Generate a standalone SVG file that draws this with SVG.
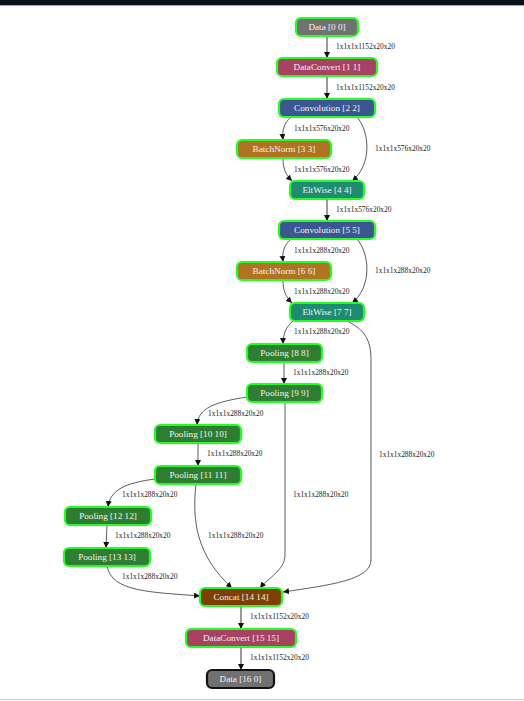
<svg xmlns="http://www.w3.org/2000/svg" width="524" height="701" viewBox="0 0 524 701">
<style>
.n rect{stroke:#22ff22;stroke-width:2.2}
.n text{font-family:"Liberation Serif",serif;font-size:9.2px;fill:#f2f2f2;text-anchor:middle}
.e path{fill:none}
.thin{stroke:#333;stroke-width:0.8}
.thick{stroke:#9a9a9a;stroke-width:2}
.lbl{font-family:"Liberation Serif",serif;font-size:7.4px;fill:#222}
.data{fill:#717171}.dc{fill:#a84263}.conv{fill:#3b5691}.bn{fill:#b07322}.elt{fill:#1f8b70}.pool{fill:#2f7d32}.cat{fill:#7e3f00}
</style>
<defs>
<marker id="ah" viewBox="0 0 6 6" refX="6" refY="3" markerWidth="6" markerHeight="6" markerUnits="userSpaceOnUse" orient="auto">
<path d="M0,0 L6,3 L0,6 z" fill="#111"/>
</marker>
</defs>
<rect x="0" y="0" width="524" height="701" fill="#fff"/>
<rect x="0" y="0" width="524" height="5" fill="#0b121b"/>
<line x1="0" y1="5.5" x2="524" y2="5.5" stroke="#aaa" stroke-width="1"/>
<line x1="0" y1="699.5" x2="524" y2="699.5" stroke="#ccc" stroke-width="1"/>

<g id="connectors" class="e">
<path class="thick" d="M327,36 L327,58" marker-end="url(#ah)"/>
<path class="thick" d="M327,76 L327,99" marker-end="url(#ah)"/>
<path class="thin" d="M291,117 C284,123 282,130 283,140" marker-end="url(#ah)"/>
<path class="thin" d="M357,117 C370,132 372,165 352,181" marker-end="url(#ah)"/>
<path class="thin" d="M283,158 C283,168 285,174 292,181" marker-end="url(#ah)"/>
<path class="thick" d="M327,199 L327,221" marker-end="url(#ah)"/>
<path class="thin" d="M291,239 C284,245 282,252 283,262" marker-end="url(#ah)"/>
<path class="thin" d="M357,239 C370,254 372,287 352,303" marker-end="url(#ah)"/>
<path class="thin" d="M283,280 C283,290 285,296 292,303" marker-end="url(#ah)"/>
<path class="thin" d="M293,321 C286,327 283,334 283,344" marker-end="url(#ah)"/>
<path class="thin" d="M347,321 C365,330 371,340 371,360 L371,560 C371,580 330,585 283,592" marker-end="url(#ah)"/>
<path class="thin" d="M284,362 L284,384" marker-end="url(#ah)"/>
<path class="thin" d="M247,397 C215,402 198,408 197,425" marker-end="url(#ah)"/>
<path class="thin" d="M285,402 L285,555 C285,570 268,578 260,588" marker-end="url(#ah)"/>
<path class="thin" d="M198,443 L198,466" marker-end="url(#ah)"/>
<path class="thin" d="M155,479 C125,483 110,490 108,507" marker-end="url(#ah)"/>
<path class="thin" d="M196,484 C192,520 196,555 232,588" marker-end="url(#ah)"/>
<path class="thin" d="M107,525 L106,548" marker-end="url(#ah)"/>
<path class="thin" d="M107,566 C112,592 150,592 200,596" marker-end="url(#ah)"/>
<path class="thick" d="M241,606 L241,629" marker-end="url(#ah)"/>
<path class="thick" d="M241,647 L241,670" marker-end="url(#ah)"/>
<text class="lbl" x="336" y="48.5">1x1x1x1152x20x20</text>
<text class="lbl" x="336" y="89.5">1x1x1x1152x20x20</text>
<text class="lbl" x="294" y="130.5">1x1x1x576x20x20</text>
<text class="lbl" x="375" y="150.5">1x1x1x576x20x20</text>
<text class="lbl" x="294" y="171.5">1x1x1x576x20x20</text>
<text class="lbl" x="336" y="212">1x1x1x576x20x20</text>
<text class="lbl" x="294" y="252.5">1x1x1x288x20x20</text>
<text class="lbl" x="375" y="272.5">1x1x1x288x20x20</text>
<text class="lbl" x="294" y="293.5">1x1x1x288x20x20</text>
<text class="lbl" x="294" y="333.5">1x1x1x288x20x20</text>
<text class="lbl" x="293" y="374.5">1x1x1x288x20x20</text>
<text class="lbl" x="208" y="415.5">1x1x1x288x20x20</text>
<text class="lbl" x="207" y="456">1x1x1x288x20x20</text>
<text class="lbl" x="379" y="456.5">1x1x1x288x20x20</text>
<text class="lbl" x="122" y="496.5">1x1x1x288x20x20</text>
<text class="lbl" x="293" y="496.5">1x1x1x288x20x20</text>
<text class="lbl" x="115" y="537.5">1x1x1x288x20x20</text>
<text class="lbl" x="208" y="537.5">1x1x1x288x20x20</text>
<text class="lbl" x="122" y="578.5">1x1x1x288x20x20</text>
<text class="lbl" x="250" y="618.5">1x1x1x1152x20x20</text>
<text class="lbl" x="250" y="659.5">1x1x1x1152x20x20</text>
</g>

<g id="n0" class="n"><rect class="data" x="296" y="18" width="62" height="18" rx="5"/><text x="327" y="30.2">Data [0 0]</text></g>
<g id="n1" class="n"><rect class="dc" x="277" y="58" width="100" height="18" rx="5"/><text x="327" y="70.2">DataConvert [1 1]</text></g>
<g id="n2" class="n"><rect class="conv" x="279" y="99" width="96" height="18" rx="5"/><text x="327" y="111.2">Convolution [2 2]</text></g>
<g id="n3" class="n"><rect class="bn" x="237" y="140" width="94" height="18" rx="5"/><text x="284" y="152.2">BatchNorm [3 3]</text></g>
<g id="n4" class="n"><rect class="elt" x="290" y="181" width="74" height="18" rx="5"/><text x="327" y="193.2">EltWise [4 4]</text></g>
<g id="n5" class="n"><rect class="conv" x="279" y="221" width="96" height="18" rx="5"/><text x="327" y="233.2">Convolution [5 5]</text></g>
<g id="n6" class="n"><rect class="bn" x="237" y="262" width="94" height="18" rx="5"/><text x="284" y="274.2">BatchNorm [6 6]</text></g>
<g id="n7" class="n"><rect class="elt" x="290" y="303" width="74" height="18" rx="5"/><text x="327" y="315.2">EltWise [7 7]</text></g>
<g id="n8" class="n"><rect class="pool" x="247" y="344" width="75" height="18" rx="5"/><text x="284.5" y="356.2">Pooling [8 8]</text></g>
<g id="n9" class="n"><rect class="pool" x="247" y="384" width="75" height="18" rx="5"/><text x="284.5" y="396.2">Pooling [9 9]</text></g>
<g id="n10" class="n"><rect class="pool" x="155" y="425" width="86" height="18" rx="5"/><text x="198" y="437.2">Pooling [10 10]</text></g>
<g id="n11" class="n"><rect class="pool" x="155" y="466" width="86" height="18" rx="5"/><text x="198" y="478.2">Pooling [11 11]</text></g>
<g id="n12" class="n"><rect class="pool" x="65" y="507" width="86" height="18" rx="5"/><text x="108" y="519.2">Pooling [12 12]</text></g>
<g id="n13" class="n"><rect class="pool" x="64" y="548" width="86" height="18" rx="5"/><text x="107" y="560.2">Pooling [13 13]</text></g>
<g id="n14" class="n"><rect class="cat" x="200" y="588" width="82" height="18" rx="5"/><text x="241" y="600.2">Concat [14 14]</text></g>
<g id="n15" class="n"><rect class="dc" x="186" y="629" width="110" height="18" rx="5"/><text x="241" y="641.2">DataConvert [15 15]</text></g>
<g id="n16" class="n"><rect class="data" x="207" y="670" width="67" height="18" rx="5" style="stroke:#111"/><text x="240.5" y="682.2">Data [16 0]</text></g>
</svg>
